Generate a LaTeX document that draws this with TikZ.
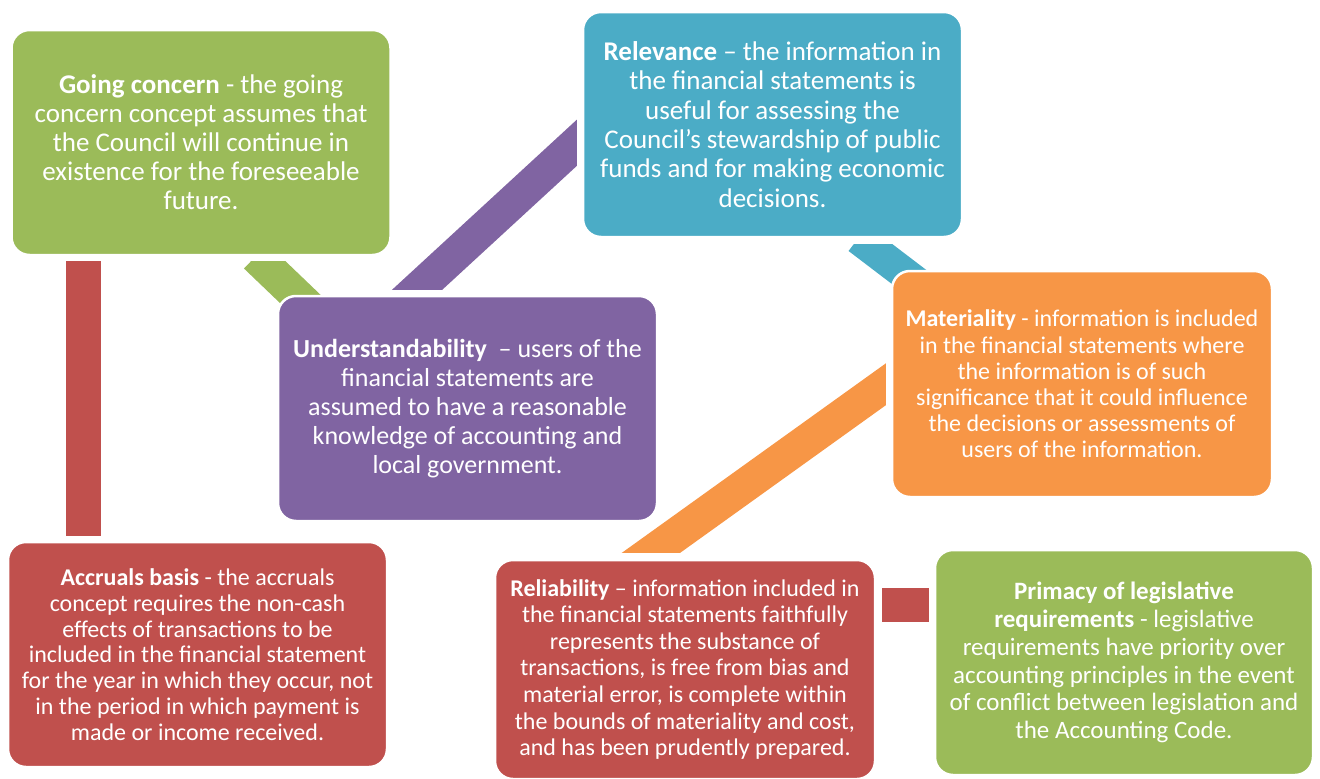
\documentclass[tikz,border=0pt]{standalone}
\usepackage{fontspec}
\setmainfont{Carlito}
\usetikzlibrary{calc,backgrounds}
\definecolor{cgreen}{HTML}{9BBB59}
\definecolor{cteal}{HTML}{4BACC6}
\definecolor{cpurple}{HTML}{8064A2}
\definecolor{corange}{HTML}{F79646}
\definecolor{cred}{HTML}{C0504D}
\begin{document}
\begin{tikzpicture}[x=1pt,y=-1pt,
  card/.style={rounded corners=18pt, draw=white, line width=2.5pt, text=white,
    align=center, minimum width=379pt, minimum height=225pt, inner sep=0pt},
  band/.style={line width=34pt}]
\useasboundingbox (0,0) rectangle (1320,779);

% concept cards
\node[card, fill=cgreen, font=\fontsize{27}{29}\selectfont] (going) at (201,142.5)
  {\textbf{Going concern} - the going\\concern concept assumes that\\the Council will continue in\\existence for the foreseeable\\future.};
\node[card, fill=cteal, font=\fontsize{27}{29.4}\selectfont] (relevance) at (772.5,124.5)
  {\textbf{Relevance} – the information in\\the financial statements is\\useful for assessing the\\Council’s stewardship of public\\funds and for making economic\\decisions.};
\node[card, fill=cpurple, font=\fontsize{26}{29}\selectfont] (understand) at (467.5,408.5)
  {\textbf{Understandability}\ \ – users of the\\financial statements are\\assumed to have a reasonable\\knowledge of accounting and\\local government.};
\node[card, fill=corange, minimum width=380pt, minimum height=226pt, font=\fontsize{24}{26.2}\selectfont] (materiality) at (1082,384)
  {\textbf{Materiality} - information is included\\in the financial statements where\\the information is of such\\significance that it could influence\\the decisions or assessments of\\users of the information.};
\node[card, fill=cred, font=\fontsize{24}{25.8}\selectfont] (accruals) at (197.5,654.5)
  {\textbf{Accruals basis} - the accruals\\concept requires the non-cash\\effects of transactions to be\\included in the financial statement\\for the year in which they occur, not\\in the period in which payment is\\made or income received.};
\node[card, fill=cred, minimum width=380pt, minimum height=219pt, font=\fontsize{24}{26.6}\selectfont] (reliability) at (685,669.5)
  {\textbf{Reliability} – information included in\\the financial statements faithfully\\represents the substance of\\transactions, is free from bias and\\material error, is complete within\\the bounds of materiality and cost,\\and has been prudently prepared.};
\node[card, fill=cgreen, minimum width=378pt, font=\fontsize{25}{27.8}\selectfont] (primacy) at (1124,662.5)
  {\textbf{Primacy of legislative}\\\textbf{requirements} - legislative\\requirements have priority over\\accounting principles in the event\\of conflict between legislation and\\the Accounting Code.};

% connecting bands, behind the cards
\begin{scope}[on background layer]
  % going concern -> understandability
  \begin{scope}
    \clip ($(going.south west)+(0,5)$) rectangle (understand.south east);
    \draw[band, cgreen, shorten >=-30pt]
      ($(going.south west)+(245.5,0)$) -- ($(understand.north west)+(39,19)$);
  \end{scope}
  % understandability -> relevance
  \begin{scope}
    \clip (going.north east) rectangle ($(relevance.west |- understand.north)+(-5,-5)$);
    \draw[band, cpurple, shorten <=-30pt, shorten >=-30pt]
      ($(understand.north west)+(135,0)$) -- ($(relevance.south west)+(0,-100)$);
  \end{scope}
  % relevance -> materiality
  \begin{scope}
    \clip ($(relevance.south west)+(0,6)$) rectangle (materiality.south east);
    \draw[band, cteal, line width=32pt, shorten >=-40pt]
      ($(relevance.south west)+(276.5,0)$) -- ($(materiality.north west)+(22,10)$);
  \end{scope}
  % reliability -> materiality
  \begin{scope}
    \clip (understand.north) rectangle ($(materiality.west |- reliability.north)+(-5,-6)$);
    \draw[band, corange, shorten <=-30pt, shorten >=-30pt]
      ($(reliability.north west)+(149,0)$) -- ($(materiality.north west)+(0,111)$);
  \end{scope}
  % going concern -> accruals basis
  \draw[band, cred, line width=35pt]
    ($(going.south west)+(73.5,5)$) -- ($(going.south west |- accruals.north)+(73.5,-5)$);
  % reliability -> primacy
  \draw[band, cred]
    ($(reliability.north east)+(6,46)$) -- ($(primacy.west |- reliability.north)+(-5,46)$);
\end{scope}
\end{tikzpicture}
\end{document}
